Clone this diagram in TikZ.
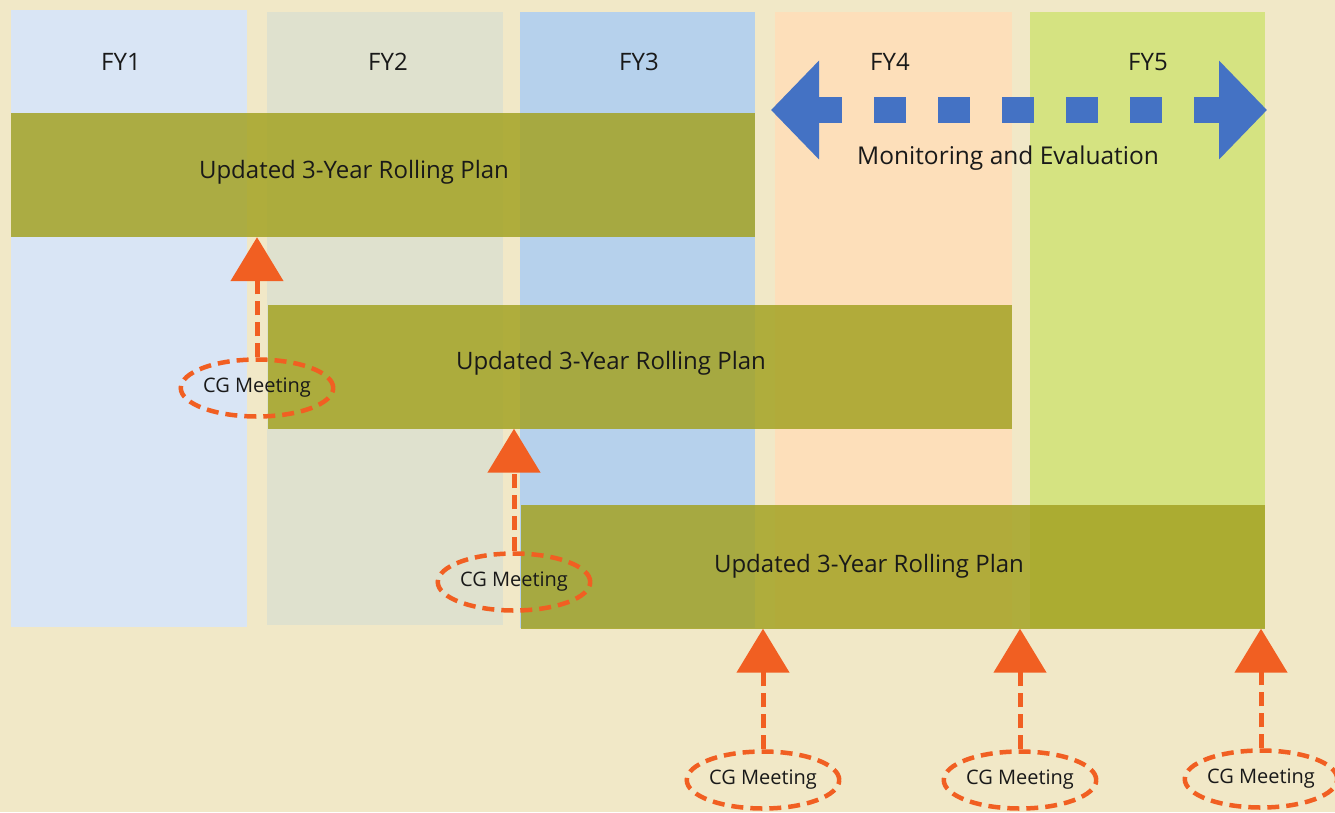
\documentclass[tikz,border=0pt]{standalone}
\usepackage{fontspec}
\setmainfont{Open Sans}
\usetikzlibrary{shapes.geometric,arrows.meta}
\definecolor{bgcream}{HTML}{F1E8C7}
\definecolor{fyone}{HTML}{D9E5F5}
\definecolor{fytwo}{HTML}{DFE1CE}
\definecolor{fythree}{HTML}{B6D1EC}
\definecolor{fyfour}{HTML}{FDDFBA}
\definecolor{fyfive}{HTML}{D5E381}
\definecolor{planolive}{HTML}{A4A324}
\definecolor{meblue}{HTML}{4472C4}
\definecolor{cgorange}{HTML}{F15F22}
\newcommand{\plantext}[2]{\raisebox{#1}{Updated 3-Year Rolling Plan}\hspace*{#2}}
\begin{document}
\begin{tikzpicture}[x=1pt,y=-1pt,
  fylabel/.style={font=\fontsize{24}{28}\selectfont,text=black!90},
  planbar/.style={fill=planolive,fill opacity=0.85,text opacity=1,inner sep=0pt,
    minimum width=744pt,minimum height=124pt,font=\fontsize{24}{28}\selectfont,text=black!90},
  cgmeet/.style={ellipse,draw=cgorange,line width=4.5pt,dash pattern=on 12pt off 7pt,
    minimum width=146pt,minimum height=57pt,inner sep=0pt,font=\fontsize{20}{24}\selectfont,text=black!90},
  cgarrow/.style={cgorange,line width=5pt,dash pattern=on 14pt off 7pt,
    -{Triangle[length=44pt,width=52pt]}},
  mearrow/.style={meblue,line width=26pt,dash pattern=on 32pt off 32pt,dash phase=6pt,
    {Triangle[length=48pt,width=96pt]}-{Triangle[length=48pt,width=96pt]}}]
\fill[bgcream] (0,0) rectangle (1335,812);
\useasboundingbox (0,0) rectangle (1335,812);
% financial years
\fill[fyone] (11,10) rectangle (247,627);
\fill[fytwo] (267,12) rectangle (503,625);
\fill[fythree] (520,12) rectangle (755,628);
\fill[fyfour] (775,12) rectangle (1012,628);
\fill[fyfive] (1030,12) rectangle (1265,628);
\node[fylabel] (fy1) at (121,62) {FY1};
\node[fylabel] (fy2) at (388,62) {FY2};
\node[fylabel] (fy3) at (639,62) {FY3};
\node[fylabel] (fy4) at (890,62) {FY4};
\node[fylabel] (fy5) at (1148,62) {FY5};
% rolling plans
\node[planbar] (plan1) at (383,175) {\plantext{12pt}{58pt}};
\node[planbar] (plan2) at (639.5,366.5) {\plantext{12pt}{57pt}};
\node[planbar] (plan3) at (892.5,566.5) {\plantext{2pt}{47pt}};
% monitoring
\coordinate (meL) at (771,110);
\coordinate (meR) at (1267,110);
\draw[mearrow] (meL) -- (meR);
\node[fylabel,font=\fontsize{24.5}{28}\selectfont] (me) at (1008,158) {Monitoring and Evaluation};
% meetings
\node[cgmeet] (cg1) at (257,388) {CG Meeting};
\node[cgmeet] (cg2) at (514,582) {CG Meeting};
\node[cgmeet] (cg3) at (763,780) {CG Meeting};
\node[cgmeet] (cg4) at (1020,780) {CG Meeting};
\node[cgmeet] (cg5) at (1261,779) {CG Meeting};
\draw[cgarrow] (cg1.north) -- (cg1.north |- plan1.south);
\draw[cgarrow] (cg2.north) -- (cg2.north |- plan2.south);
\draw[cgarrow] (cg3.north) -- (cg3.north |- plan3.south);
\draw[cgarrow] (cg4.north) -- (cg4.north |- plan3.south);
\draw[cgarrow] (cg5.north) -- (cg5.north |- plan3.south);
\end{tikzpicture}
\end{document}
